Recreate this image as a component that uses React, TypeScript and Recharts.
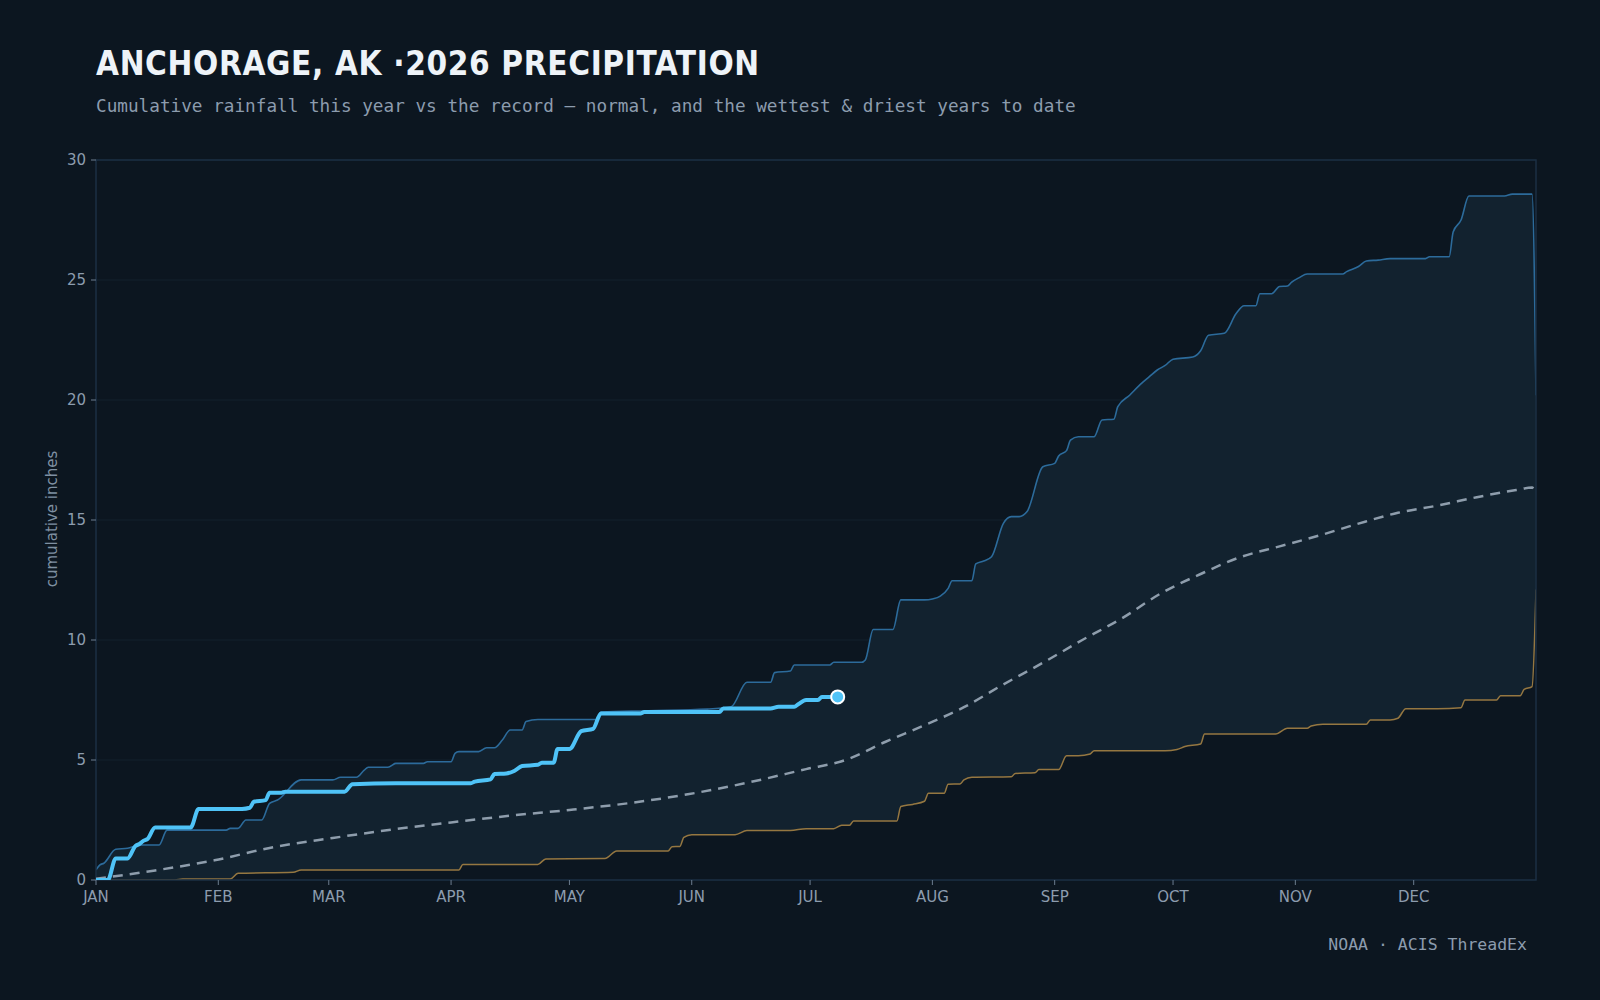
import React from 'react';
import {
  ComposedChart,
  Area,
  Line,
  XAxis,
  YAxis,
  CartesianGrid,
  ReferenceArea,
  ReferenceDot,
} from 'recharts';

// x axis is day-of-year (0 = Jan 1), y is cumulative inches
const MONTH_DAYS = [0, 31, 59, 90, 120, 151, 181, 212, 243, 273, 304, 334];
const MONTH_LABELS = ['JAN', 'FEB', 'MAR', 'APR', 'MAY', 'JUN', 'JUL', 'AUG', 'SEP', 'OCT', 'NOV', 'DEC'];
const Y_TICKS = [0, 5, 10, 15, 20, 25, 30];

// 2026 year-to-date
const yearDay = [0, 3, 5, 8, 10, 11, 12, 13, 15, 24, 26, 37, 39, 40, 43, 44, 47, 48, 63, 65, 76, 95, 96, 100, 101, 104, 106, 108, 112, 113, 116, 117, 120, 123, 126, 128, 138, 139, 158, 159, 171, 173, 177, 178, 180, 183, 184, 188];
const yearIn = [0, 0, 0.9, 0.9, 1.42, 1.5, 1.63, 1.7, 2.19, 2.19, 2.96, 2.96, 3.01, 3.26, 3.33, 3.64, 3.64, 3.68, 3.68, 3.99, 4.03, 4.03, 4.1, 4.19, 4.42, 4.44, 4.54, 4.75, 4.8, 4.89, 4.89, 5.46, 5.46, 6.2, 6.3, 6.94, 6.94, 7.0, 7.0, 7.15, 7.15, 7.22, 7.22, 7.32, 7.5, 7.5, 7.63, 7.63];

// wettest year on record to date
const wetDay = [0, 1, 2, 5, 8, 11, 16, 18, 33, 34, 36, 38, 42, 44, 46, 52, 60, 62, 66, 68, 69, 74, 76, 83, 84, 90, 91, 92, 97, 99, 101, 103, 105, 108, 109, 112, 127, 128, 140, 155, 161, 165, 171, 172, 176, 177, 186, 187, 194, 195, 197, 202, 204, 210, 212, 214, 216, 217, 222, 223, 225, 227, 230, 232, 234, 236, 240, 243, 244, 246, 247, 249, 253, 255, 258, 259, 262, 265, 267, 269, 271, 273, 278, 280, 282, 286, 289, 291, 294, 295, 298, 300, 302, 303, 305, 307, 316, 317, 320, 322, 325, 328, 337, 338, 343, 344, 346, 348, 357, 359, 364, 365];
const wetIn = [0.42, 0.63, 0.7, 1.28, 1.32, 1.46, 1.46, 2.08, 2.08, 2.15, 2.15, 2.5, 2.5, 3.19, 3.33, 4.17, 4.17, 4.28, 4.28, 4.58, 4.7, 4.7, 4.86, 4.86, 4.93, 4.93, 5.28, 5.35, 5.35, 5.51, 5.51, 5.83, 6.25, 6.25, 6.6, 6.69, 6.69, 7.0, 7.05, 7.12, 7.22, 8.24, 8.24, 8.64, 8.71, 8.96, 8.96, 9.07, 9.07, 9.17, 10.44, 10.44, 11.67, 11.67, 11.71, 11.83, 12.15, 12.47, 12.47, 13.17, 13.29, 13.47, 14.86, 15.14, 15.14, 15.35, 17.22, 17.36, 17.67, 17.89, 18.33, 18.47, 18.47, 19.17, 19.2, 19.72, 20.2, 20.69, 20.97, 21.25, 21.44, 21.7, 21.79, 22.05, 22.7, 22.78, 23.6, 23.93, 23.93, 24.43, 24.43, 24.73, 24.75, 24.9, 25.1, 25.25, 25.25, 25.35, 25.56, 25.79, 25.83, 25.89, 25.89, 25.97, 25.97, 27.0, 27.5, 28.5, 28.5, 28.58, 28.58, 20.2];

// driest year on record to date
const dryDay = [0, 20, 22, 34, 36, 50, 52, 92, 93, 112, 114, 129, 132, 145, 146, 148, 149, 151, 162, 165, 176, 180, 187, 189, 191, 192, 203, 204, 207, 210, 211, 215, 216, 219, 220, 222, 232, 233, 238, 239, 244, 246, 249, 252, 253, 271, 274, 276, 280, 281, 299, 302, 307, 308, 311, 322, 323, 328, 330, 332, 340, 346, 347, 355, 356, 361, 362, 364, 365];
const dryIn = [0, 0, 0.04, 0.04, 0.28, 0.32, 0.42, 0.42, 0.65, 0.65, 0.88, 0.9, 1.21, 1.21, 1.39, 1.4, 1.78, 1.89, 1.89, 2.06, 2.06, 2.14, 2.14, 2.28, 2.28, 2.46, 2.46, 3.06, 3.15, 3.28, 3.61, 3.61, 3.99, 4.0, 4.17, 4.28, 4.3, 4.44, 4.47, 4.6, 4.6, 5.18, 5.18, 5.25, 5.39, 5.39, 5.44, 5.56, 5.67, 6.08, 6.08, 6.32, 6.32, 6.42, 6.49, 6.49, 6.67, 6.67, 6.74, 7.14, 7.14, 7.18, 7.5, 7.5, 7.68, 7.68, 7.94, 8.06, 12.1];

// 1991-2020 normal
const normalDay = [0, 15, 30, 45, 60, 75, 90, 105, 120, 135, 150, 165, 180, 190, 200, 210, 220, 230, 240, 250, 260, 270, 280, 290, 300, 310, 320, 330, 340, 350, 360, 364, 365];
const normalIn = [0.05, 0.4, 0.82, 1.37, 1.75, 2.1, 2.4, 2.68, 2.92, 3.2, 3.57, 4.05, 4.62, 5.0, 5.75, 6.45, 7.2, 8.15, 9.05, 10.0, 10.9, 11.95, 12.75, 13.45, 13.9, 14.35, 14.85, 15.3, 15.6, 15.95, 16.25, 16.35, 16.05];

const toRows = (days: number[], vals: number[]) => days.map((day, i) => ({ day, v: vals[i] }));

const yearRows = toRows(yearDay, yearIn);
const wetRows = toRows(wetDay, wetIn);
const dryRows = toRows(dryDay, dryIn);
const normalRows = toRows(normalDay, normalIn);
const lastYear = yearRows[yearRows.length - 1];

const BG = '#0c1620';
const BAND = '#12222f';
const WET = '#2c6b9b';
const DRY = '#957741';
const NORMAL = '#8e9dac';
const YEAR = '#4fc3f7';
const GRID = '#13212d';
const BORDER = '#1b2f43';
const MUTED = '#8c9cae';

const tickStyle = { fill: MUTED, fontSize: 15, fontFamily: 'DejaVu Sans' };

export default function App() {
  return (
    <div style={{ position: 'absolute', left: 0, top: 0, width: 1600, height: 1000, background: BG, overflow: 'hidden' }}>
      <div
        style={{
          position: 'absolute', left: 96, top: 47, lineHeight: 1, whiteSpace: 'nowrap',
          fontFamily: 'DejaVu Sans Condensed', fontWeight: 700, fontSize: 33, letterSpacing: 0.65, color: '#eef3f8',
        }}
      >
        ANCHORAGE, AK ·2026 PRECIPITATION
      </div>
      <div
        style={{
          position: 'absolute', left: 96, top: 98, lineHeight: 1, whiteSpace: 'nowrap',
          fontFamily: 'DejaVu Sans Mono', fontSize: 17.7, color: MUTED,
        }}
      >
        Cumulative rainfall this year vs the record — normal, and the wettest &amp; driest years to date
      </div>
      <div
        style={{
          position: 'absolute', left: 52, top: 519, transform: 'translate(-50%, -50%) rotate(-90deg)',
          whiteSpace: 'nowrap', lineHeight: 1, fontFamily: 'DejaVu Sans', fontSize: 15, color: '#7f90a2',
        }}
      >
        cumulative inches
      </div>
      <div
        style={{
          position: 'absolute', right: 73, top: 937, lineHeight: 1, whiteSpace: 'nowrap',
          fontFamily: 'DejaVu Sans Mono', fontSize: 16.5, color: MUTED,
        }}
      >
        NOAA · ACIS ThreadEx
      </div>

      <div style={{ position: 'absolute', left: 0, top: 0 }}>
        <ComposedChart width={1600} height={1000} margin={{ top: 160, right: 64, bottom: 90, left: 36 }}>
          <CartesianGrid horizontal vertical={false} stroke={GRID} strokeWidth={1} />
          <XAxis
            type="number"
            dataKey="day"
            domain={[0, 365]}
            ticks={MONTH_DAYS}
            tickFormatter={(d: number) => MONTH_LABELS[MONTH_DAYS.indexOf(d)]}
            interval={0}
            height={30}
            axisLine={false}
            tickLine={{ stroke: '#6c7d8f' }}
            tickSize={5}
            tickMargin={6}
            tick={tickStyle}
            allowDataOverflow
          />
          <YAxis
            type="number"
            domain={[0, 30]}
            ticks={Y_TICKS}
            width={60}
            axisLine={false}
            tickLine={{ stroke: '#6c7d8f' }}
            tickSize={5}
            tickMargin={5}
            tick={tickStyle}
            allowDataOverflow
          />
          {/* record band: wettest filled down, driest punched out with the background */}
          <Area
            data={wetRows}
            dataKey="v"
            type="monotoneX"
            stroke={WET}
            strokeWidth={1.6}
            fill={BAND}
            fillOpacity={1}
            isAnimationActive={false}
            dot={false}
            activeDot={false}
          />
          <Area
            data={dryRows}
            dataKey="v"
            type="monotoneX"
            stroke={DRY}
            strokeWidth={1.5}
            fill={BG}
            fillOpacity={1}
            isAnimationActive={false}
            dot={false}
            activeDot={false}
          />
          <Line
            data={normalRows}
            dataKey="v"
            type="monotoneX"
            stroke={NORMAL}
            strokeWidth={2.5}
            strokeDasharray="10 7"
            dot={false}
            activeDot={false}
            isAnimationActive={false}
          />
          <Line
            data={yearRows}
            dataKey="v"
            type="monotoneX"
            stroke={YEAR}
            strokeWidth={4}
            strokeLinejoin="round"
            dot={false}
            activeDot={false}
            isAnimationActive={false}
          />
          <ReferenceDot x={lastYear.day} y={lastYear.v} r={6.5} fill={YEAR} stroke="#ffffff" strokeWidth={2} />
          <ReferenceArea x1={0} x2={365} y1={0} y2={30} fill="none" stroke={BORDER} strokeWidth={1.5} />
        </ComposedChart>
      </div>
    </div>
  );
}
